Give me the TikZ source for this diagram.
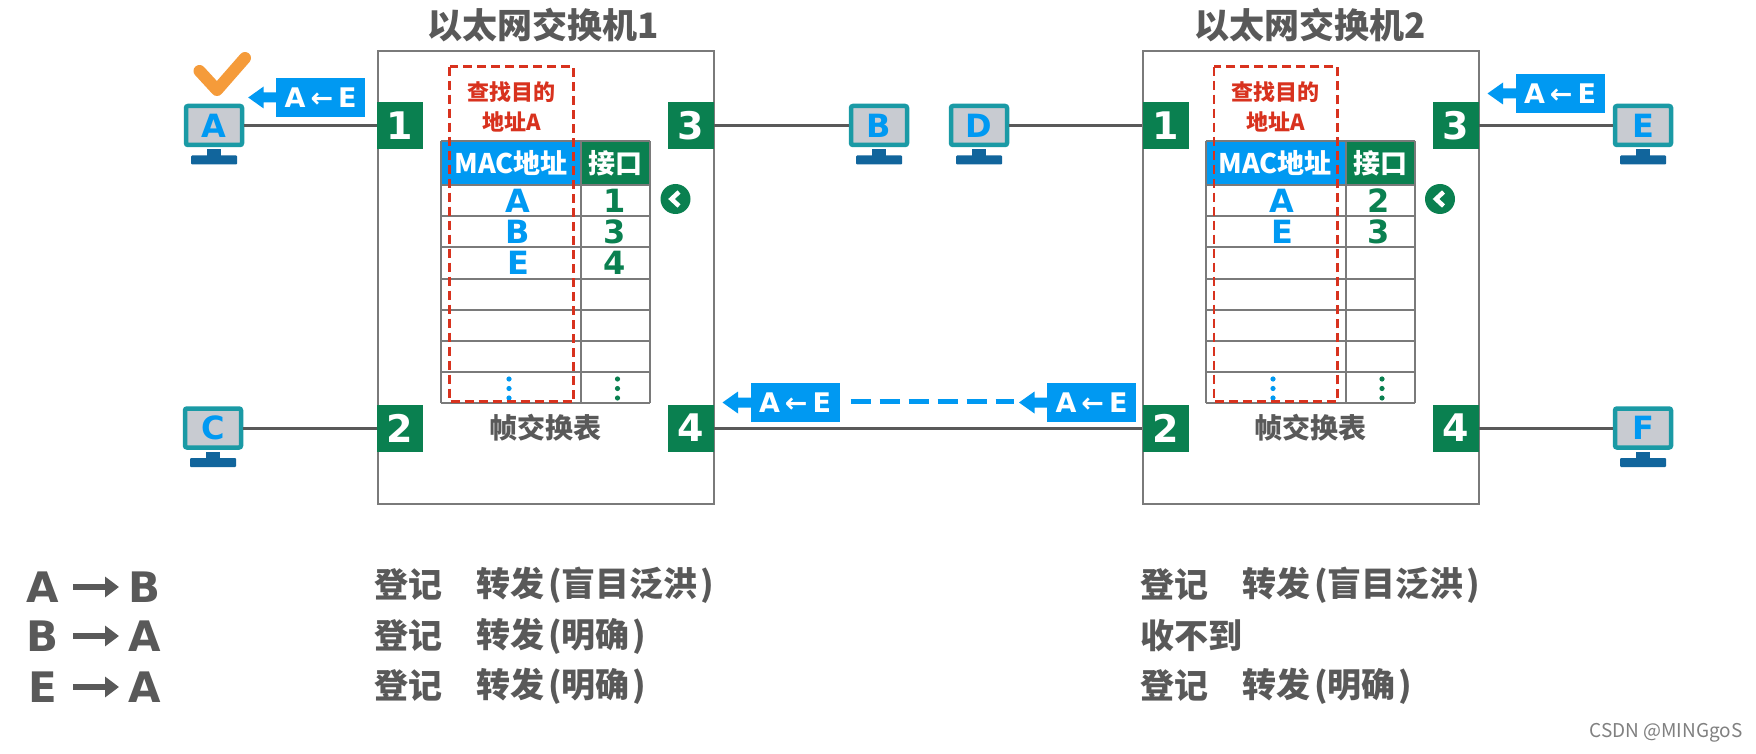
\documentclass[tikz,border=0pt]{standalone}
\usepackage{fontspec}
\setmainfont{Noto Sans CJK SC}
\newfontfamily\heavyfont[BoldFont={DejaVu Sans Bold}]{DejaVu Sans}
\usepackage{xcolor}
\usetikzlibrary{positioning,arrows.meta}
\definecolor{macblue}{HTML}{0099F2}
\definecolor{portgreen}{HTML}{0A8050}
\definecolor{txtgray}{HTML}{595959}
\definecolor{boxgray}{HTML}{7A7A7A}
\definecolor{findred}{HTML}{D8321E}
\definecolor{pcteal}{HTML}{1A9AA5}
\definecolor{pcbase}{HTML}{11659C}
\definecolor{pcface}{HTML}{C8CBD1}
\definecolor{ckorange}{HTML}{F59B3A}
\tikzset{
  swbox/.style={rectangle, draw=boxgray, line width=2pt, fill=white, minimum width=336pt, minimum height=452.5pt},
  port/.style={rectangle, fill=portgreen, text=white, minimum width=46pt, minimum height=47pt, inner sep=0pt, font=\fontsize{38}{38}\selectfont\heavyfont\bfseries},
  pc/.style={rectangle, draw=pcteal, fill=pcface, line width=4.5pt, rounded corners=2pt, minimum width=56pt, minimum height=39pt, inner sep=0pt, text=macblue, font=\fontsize{32}{32}\selectfont\heavyfont\bfseries},
  tag/.style={rectangle, fill=macblue, text=white, minimum width=89pt, minimum height=39pt, inner sep=0pt, font=\fontsize{27}{27}\selectfont\heavyfont\bfseries},
  wire/.style={draw=txtgray, line width=3pt},
  dashwire/.style={draw=macblue, line width=5pt, dash pattern=on 20pt off 9pt},
  grid/.style={draw=boxgray, line width=2pt},
  finddash/.style={draw=findred, line width=2.5pt, dash pattern=on 9pt off 5pt},
  findlbl/.style={text=findred, inner sep=0pt, font=\fontsize{22}{22}\selectfont\bfseries},
  hdr/.style={rectangle, text=white, inner sep=0pt, font=\fontsize{27}{27}\selectfont\bfseries},
  macent/.style={text=macblue, inner sep=0pt, font=\fontsize{32}{32}\selectfont\heavyfont\bfseries},
  portent/.style={text=portgreen, inner sep=0pt, font=\fontsize{32}{32}\selectfont\heavyfont\bfseries},
  title/.style={text=txtgray, inner sep=0pt, font=\fontsize{35}{35}\selectfont\bfseries},
  tbllbl/.style={text=txtgray, inner sep=0pt, font=\fontsize{28}{28}\selectfont\bfseries},
  steplbl/.style={text=txtgray, inner sep=0pt, anchor=west, font=\fontsize{34}{34}\selectfont\bfseries},
  pair/.style={text=txtgray, inner sep=0pt, font=\fontsize{42}{42}\selectfont\heavyfont\bfseries},
  pairarr/.style={draw=txtgray, line width=6pt, -{Triangle[length=14pt,width=20pt]}}
}
\begin{document}
\begin{tikzpicture}[x=1pt,y=-1pt]
  \useasboundingbox (0,0) rectangle (1756,754);
  \fill[white] (0,0) rectangle (1756,754);
  % switches
  \node[swbox] (sw1) at (545.5,277.5) {};
  \node[swbox] (sw2) at (1311,277.5) {};
  \node[title] (ttl1) at (543.6,25) {以太网交换机1};
  \node[title] (ttl2) at (1310,25) {以太网交换机2};
  % ports
  \foreach \nm/\lab/\x/\y in {aa/1/400/125.5, ab/2/400/428, ac/3/690.5/125.5, ad/4/690.5/428,
      ba/1/1165.5/125.5, bb/2/1165.5/428, bc/3/1455.5/125.5, bd/4/1455.5/428}{
    \node[port] (\nm) at (\x,\y) {\lab};
  }
  % computers
  \foreach \nm/\x/\y in {A/214/125.5, B/879/125.5, C/213/428, D/979/125.5, E/1643/125.5, F/1643/428}{
    \fill[pcbase] (\x-7,\y+24) rectangle (\x+7,\y+31);
    \fill[pcbase, rounded corners=1pt] (\x-23,\y+30) rectangle (\x+23,\y+39);
    \node[pc] (\nm) at (\x,\y) {\nm};
  }
  % wires
  \draw[wire] (A)--(aa); \draw[wire] (C)--(ab);
  \draw[wire] (ac)--(B); \draw[wire] (D)--(ba);
  \draw[wire] (ad)--(bb);
  \draw[wire] (bc)--(E); \draw[wire] (bd)--(F);
  % tables
  \foreach \ox/\sx/\wd in {441/580.5/650, 1206/1345.5/1415}{
    \fill[macblue] (\ox,141) rectangle (\sx,185);
    \fill[portgreen] (\sx,141) rectangle (\wd,185);
    \foreach \ry in {141,185,216,247,278.5,310,341,372,403}{
      \draw[grid] (\ox,\ry)--(\wd,\ry);
    }
    \draw[grid] (\ox,141)--(\ox,403);
    \draw[grid] (\sx,141)--(\sx,403);
    \draw[grid] (\wd,141)--(\wd,403);
  }
  \node[hdr] (mac1) at (511,163) {MAC地址};
  \node[hdr] (if1) at (615,163) {接口};
  \node[hdr] (mac2) at (1275,163) {MAC地址};
  \node[hdr] (if2) at (1380,163) {接口};
  % entries
  \foreach \nm/\lab/\x/\y in {ma/A/518/201, mb/B/518/232, me/E/518/263, na/A/1282/201, ne/E/1282/232}{
    \node[macent] (\nm) at (\x,\y) {\lab};
  }
  \foreach \nm/\lab/\x/\y in {pa/1/615/201, pb/3/615/232, pe/4/615/263, qa/2/1379/201, qe/3/1379/232}{
    \node[portent] (\nm) at (\x,\y) {\lab};
  }
  % dots in last row
  \foreach \x/\col in {509/macblue, 617.5/portgreen, 1273/macblue, 1382/portgreen}{
    \foreach \y in {379,388.5,398}{
      \fill[\col] (\x,\y) circle (2.6);
    }
  }
  % search boxes
  \draw[finddash] (449.7,66.7) rectangle (573.6,401.7);
  \draw[finddash] (1214,66.7) rectangle (1337.7,401.7);
  \node[findlbl] (fa1) at (511.6,92.5) {查找目的};
  \node[findlbl] (fb1) at (511.6,121.5) {地址A};
  \node[findlbl] (fa2) at (1275.7,92.5) {查找目的};
  \node[findlbl] (fb2) at (1275.7,121.5) {地址A};
  \node[tbllbl] (lb1) at (545,427.5) {帧交换表};
  \node[tbllbl] (lb2) at (1310,427.5) {帧交换表};
  % pointers
  \foreach \nm/\x in {ptr1/675.5, ptr2/1440}{
    \node[circle, fill=portgreen, minimum size=30pt, inner sep=0pt] (\nm) at (\x,199) {};
    \draw[white, line width=4.5pt] (\x+3.5,199-7)--(\x-4,199)--(\x+3.5,199+7);
  }
  % frames
  \foreach \nm/\x/\y in {fra/320.7/97.5, frb/1560/93.5, frc/795/402.5, frd/1091.5/402.5}{
    \fill[macblue] (\x-72.5,\y)--(\x-57,\y-11)--(\x-57,\y-5)--(\x-44,\y-5)--(\x-44,\y+5)--(\x-57,\y+5)--(\x-57,\y+11)--cycle;
    \node[tag] (\nm) at (\x,\y) {A\kern5pt←\kern5pt E};
  }
  \coordinate (dashend) at (1014,401);
  \draw[dashwire, shorten <=11pt] (frc.east |- dashend)--(dashend);
  % check mark
  \coordinate (ck1) at (199.5,71);
  \coordinate (ck2) at (217,90);
  \coordinate (ck3) at (245,58);
  \draw[draw=ckorange, line width=12pt, line cap=round, line join=round] (ck1)--(ck2)--(ck3);
  % summary rows
  \foreach \nm/\lft/\rgt/\y in {ra/A/B/587, rb/B/A/636, rc/E/A/687}{
    \node[pair] (\nm l) at (43,\y) {\lft};
    \node[pair] (\nm r) at (145,\y) {\rgt};
    \coordinate (\nm s) at (73,\y);
    \coordinate (\nm e) at (119,\y);
    \draw[pairarr] (\nm s)--(\nm e);
  }
  \node[steplbl] (sa1) at (374,585) {登记};
  \node[steplbl] (sa2) at (476,585) {转发\kern4pt(盲目泛洪\kern3pt)};
  \node[steplbl] (sb1) at (374,636) {登记};
  \node[steplbl] (sb2) at (476,636) {转发\kern4pt(明确\kern3pt)};
  \node[steplbl] (sc1) at (374,686) {登记};
  \node[steplbl] (sc2) at (476,686) {转发\kern4pt(明确\kern3pt)};
  \node[steplbl] (ta1) at (1140,585) {登记};
  \node[steplbl] (ta2) at (1242,585) {转发\kern4pt(盲目泛洪\kern3pt)};
  \node[steplbl] (tb1) at (1140,636) {收不到};
  \node[steplbl] (tc1) at (1140,686) {登记};
  \node[steplbl] (tc2) at (1242,686) {转发\kern4pt(明确\kern3pt)};
  \node[text=gray, inner sep=0pt, font=\fontsize{19}{19}\selectfont] (wm) at (1666,733) {CSDN @MINGgoS};
\end{tikzpicture}
\end{document}
